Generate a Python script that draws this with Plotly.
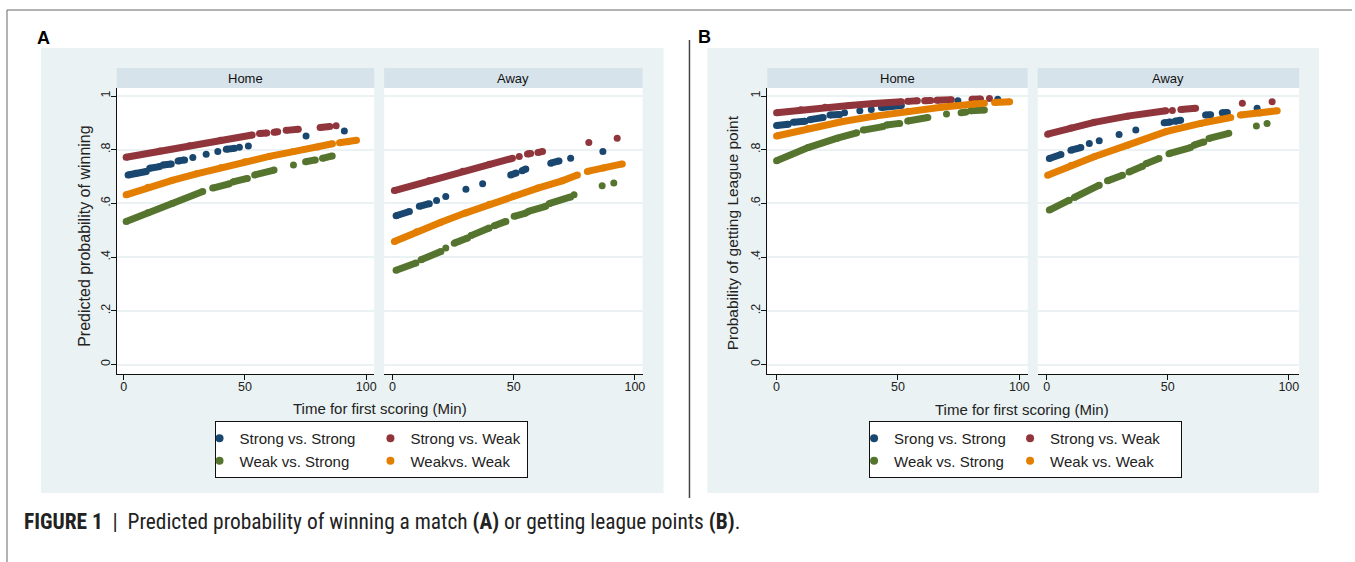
import plotly.graph_objects as go

W, H = 1355, 562

# ---------------- data (minutes, predicted probability) ----------------
# Panel A - Home
a_home_ss_x = [1.8, 5, 9.3, None, 10.7, 14.8, None, 16.2, 19.6, None, 22.4, 25.1, None, 28.5, None, 34, None, 38.8, None, 42.3, 45.7, None, 47.7, None, 51.4, None, 75.2, None, 91]
a_home_ss_y = [.706, .712, .719, None, .731, .737, None, .743, .747, None, .758, .762, None, .771, None, .783, None, .793, None, .802, .805, None, .809, None, .814, None, .851, None, .870]
a_home_sw_x = [1, 15, 27.2, 40, 53, None, 56, 59, None, 62, 63.5, None, 67, 72, None, 81, 85, None, 87.6]
a_home_sw_y = [.772, .795, .815, .835, .855, None, .860, .862, None, .865, .867, None, .872, .876, None, .883, .886, None, .889]
a_home_ws_x = [1, 10, 20, 32.6, None, 36.7, 43.5, None, 45, 51, None, 54, 62, None, 70, None, 75, 79, None, 82, 86]
a_home_ws_y = [.533, .565, .600, .644, None, .657, .673, None, .680, .693, None, .706, .724, None, .743, None, .755, .762, None, .768, .777]
a_home_ww_x = [1, 10, 20, 30, 40, 50, 60, 70, 80, 86.1, None, 89, 92.5, 96]
a_home_ww_y = [.632, .660, .686, .710, .733, .755, .775, .793, .810, .822, None, .826, .830, .835]

# Panel A - Away
a_away_ss_x = [1.5, 7, None, 11.1, 15.2, None, 18.2, None, 22, None, 30.3, None, 37.2, None, 48.8, 51, None, 53.5, 55, None, 65.3, 68.7, None, 73.5, None, 86.8]
a_away_ss_y = [.554, .570, None, .589, .599, None, .611, None, .626, None, .653, None, .673, None, .706, .713, None, .722, .728, None, .750, .758, None, .768, None, .793]
a_away_sw_x = [0.8, 15.2, 29, 40, 49.5, None, 52.3, None, 55.7, 57, None, 60, 61.9, None, 81, None, 92.7]
a_away_sw_y = [.648, .685, .720, .746, .768, None, .775, None, .784, .786, None, .790, .793, None, .827, None, .843]
a_away_ws_x = [1.5, 9.7, None, 11.8, 20, None, 22, None, 25.5, 31, None, 32.4, 39.9, None, 42, 46.8, None, 50.2, 55, None, 56, 63.2, None, 64.6, 73.5, None, 74.9, None, 86.5, None, 91.3]
a_away_ws_y = [.351, .378, None, .390, .421, None, .434, None, .452, .471, None, .480, .508, None, .517, .533, None, .552, .564, None, .570, .589, None, .599, .624, None, .632, None, .666, None, .676]
a_away_ww_x = [0.8, 10, 20, 30, 40, 50, 60, 70, 76.3, None, 80.4, 87, 94.8]
a_away_ww_y = [.458, .494, .530, .564, .597, .628, .657, .684, .706, None, .719, .732, .747]

# Panel B - Home
b_home_ss_x = [0, 4.8, None, 6.9, 11.7, None, 13.7, 19.2, None, 22, 26, None, 28, None, 34.3, None, 39, None, 43.2, 51.4, None, 74.7, None, 91.1]
b_home_ss_y = [.890, .895, None, .902, .906, None, .912, .920, None, .929, .931, None, .938, None, .945, None, .950, None, .957, .965, None, .982, None, .988]
b_home_sw_x = [0, 10, 20, 30, 40, 51.4, None, 54, 58, None, 61, 63.5, None, 66, 72, None, 80.5, 84, None, 87.7]
b_home_sw_y = [.938, .949, .958, .965, .972, .979, None, .980, .982, None, .982, .983, None, .984, .986, None, .988, .989, None, .991]
b_home_ws_x = [0, 13, 25, 33, None, 35.7, 43.9, None, 45.3, 50.7, None, 54, 62.3, None, 70, None, 76, 78, None, 80, 85.6]
b_home_ws_y = [.759, .808, .843, .863, None, .873, .886, None, .892, .898, None, .907, .920, None, .933, None, .938, .940, None, .945, .948]
b_home_ww_x = [0, 13, 26.7, 40.4, 54.1, 67.8, 81.5, 85.6, None, 89.8, 96]
b_home_ww_y = [.851, .879, .904, .925, .943, .958, .970, .973, None, .976, .979]

# Panel B - Away
b_away_ss_x = [1.1, 5.9, None, 10, 14.1, None, 17.6, None, 21.7, None, 29.9, None, 36.8, None, 48.5, 51, None, 53, 55.3, None, 65.6, 67.7, None, 72.5, 74.6, None, 86.9]
b_away_ss_y = [.767, .782, None, .798, .808, None, .823, None, .833, None, .857, None, .873, None, .900, .903, None, .906, .910, None, .929, .930, None, .938, .939, None, .954]
b_away_sw_x = [0.4, 10, 19.6, 33.4, 49.2, None, 51.9, None, 55.4, 61.5, None, 80.8, None, 93.1]
b_away_sw_y = [.858, .881, .902, .925, .945, None, .946, None, .950, .954, None, .973, None, .979]
b_away_ws_x = [1.1, 9.3, None, 11.4, 21.7, None, 25.1, 31.3, None, 34, 39.6, None, 41, 46.4, None, 50.5, 59.4, None, 60.8, 64.9, None, 67, 75.2, None, 86.6, None, 91]
b_away_ws_y = [.575, .612, None, .622, .668, None, .684, .705, None, .717, .738, None, .748, .767, None, .785, .808, None, .817, .829, None, .842, .861, None, .888, None, .898]
b_away_ww_x = [0.4, 10, 19.6, 33.4, 49.2, 63.6, 76, None, 80, 88, 95.2]
b_away_ww_y = [.705, .741, .774, .817, .867, .898, .920, None, .929, .937, .945]

legend_a = ["Strong vs. Strong", "Strong vs. Weak", "Weak vs. Strong", "Weakvs. Weak"]
legend_b = ["Srong vs. Strong", "Strong vs. Weak", "Weak vs. Strong", "Weak vs. Weak"]
facet_labels = ["Home", "Away"]
x_tickvals = [0, 50, 100]
x_ticktext = ["0", "50", "100"]
y_tickvals = [0, 0.2, 0.4, 0.6, 0.8, 1]
y_ticktext = ["0", ".2", ".4", ".6", ".8", "1"]

colors = ["#1a476f", "#90353b", "#55752f", "#e37e00"]

# ---------------- layout helpers ----------------
def px_x(p):
    return p / W

def px_y(p):
    return 1 - p / H

FONT = "Arial, Liberation Sans, Helvetica, sans-serif"
NBSP = "\u00a0"
fig = go.Figure()

panels = [
    ("", [(a_home_ss_x, a_home_ss_y), (a_home_sw_x, a_home_sw_y), (a_home_ws_x, a_home_ws_y), (a_home_ww_x, a_home_ww_y)]),
    ("2", [(a_away_ss_x, a_away_ss_y), (a_away_sw_x, a_away_sw_y), (a_away_ws_x, a_away_ws_y), (a_away_ww_x, a_away_ww_y)]),
    ("3", [(b_home_ss_x, b_home_ss_y), (b_home_sw_x, b_home_sw_y), (b_home_ws_x, b_home_ws_y), (b_home_ww_x, b_home_ww_y)]),
    ("4", [(b_away_ss_x, b_away_ss_y), (b_away_sw_x, b_away_sw_y), (b_away_ws_x, b_away_ws_y), (b_away_ww_x, b_away_ww_y)]),
]

for suf, series in panels:
    for i, (xs, ys) in enumerate(series):
        fig.add_trace(go.Scatter(
            x=xs, y=ys, mode="lines+markers",
            line=dict(color=colors[i], width=7),
            marker=dict(color=colors[i], size=7),
            xaxis="x" + suf, yaxis="y" + suf,
            showlegend=False, hoverinfo="skip", connectgaps=False,
        ))

# legend entries (two legends, 2x2 via legend groups)
groups_a = ["a1", "a2", "a1", "a2"]
groups_b = ["b1", "b2", "b1", "b2"]
pad_a = [NBSP * 6, "", "", ""]  # widen first legend column a little
for i in range(4):
    fig.add_trace(go.Scatter(
        x=[None], y=[None], mode="markers", name=legend_a[i] + pad_a[i],
        marker=dict(color=colors[i], size=8), legend="legend",
        legendgroup=groups_a[i], showlegend=True, xaxis="x", yaxis="y"))
for i in range(4):
    fig.add_trace(go.Scatter(
        x=[None], y=[None], mode="markers", name=legend_b[i],
        marker=dict(color=colors[i], size=8), legend="legend2",
        legendgroup=groups_b[i], showlegend=True, xaxis="x3", yaxis="y3"))

# facet geometry in pixels: (suffix, left, right, zero_px, px_per_unit, has_y_axis)
facets = [
    ("", 117, 375, 124, 2.43, True),
    ("2", 385, 644, 393.3, 2.43, False),
    ("3", 769, 1030, 778.3, 2.433, True),
    ("4", 1040, 1302, 1049, 2.427, False),
]
Y_TOP, Y_BOT = 88, 374
y_zero, y_one = 364.5, 96
ppu_y = y_zero - y_one
y_range = [-(Y_BOT - y_zero) / ppu_y, 1 + (y_one - Y_TOP) / ppu_y]

layout_axes = {}
shapes = []
annotations = []

def ann(x, y, text, size, **kw):
    d = dict(xref="paper", yref="paper", x=px_x(x), y=px_y(y), text=text,
             showarrow=False, xanchor="center", yanchor="middle",
             font=dict(size=size, color=kw.pop("color", "#222"), family=kw.pop("family", FONT)))
    d.update(kw)
    return d

# panel backgrounds
for (l, r) in [(41, 665), (709, 1322)]:
    shapes.append(dict(type="rect", xref="paper", yref="paper", layer="below",
                       x0=px_x(l), x1=px_x(r), y0=px_y(493), y1=px_y(48),
                       fillcolor="#eaf2f3", line=dict(width=0)))

for k, (suf, l, r, z, ppu, has_y) in enumerate(facets):
    xr = [-(z - l) / ppu, (r - z) / ppu]
    layout_axes["xaxis" + suf] = dict(
        domain=[px_x(l), px_x(r)], range=xr, anchor="y" + suf,
        showline=True, linecolor="#111", linewidth=1, mirror=False,
        ticks="outside", ticklen=5, tickcolor="#111", tickwidth=1,
        tickvals=x_tickvals, ticktext=x_ticktext, showgrid=False, zeroline=False,
        ticklabelstandoff=-4,
        tickfont=dict(size=12.5, color="#222", family=FONT), fixedrange=True)
    layout_axes["yaxis" + suf] = dict(
        domain=[px_y(Y_BOT), px_y(Y_TOP)], range=y_range, anchor="x" + suf,
        showline=has_y, linecolor="#111", linewidth=1,
        ticks="outside" if has_y else "", ticklen=5, tickcolor="#111",
        showticklabels=has_y, tickvals=y_tickvals, ticktext=y_ticktext,
        tickangle=-90, showgrid=True, gridcolor="#eaf2f3", gridwidth=1.5,
        ticklabelstandoff=-4,
        zeroline=False, tickfont=dict(size=12.5, color="#222", family=FONT),
        fixedrange=True)
    # white plot region
    shapes.append(dict(type="rect", xref="paper", yref="paper", layer="below",
                       x0=px_x(l), x1=px_x(r), y0=px_y(Y_BOT), y1=px_y(Y_TOP),
                       fillcolor="white", line=dict(width=0)))
    # strip header
    shapes.append(dict(type="rect", xref="paper", yref="paper", layer="below",
                       x0=px_x(l), x1=px_x(r), y0=px_y(88), y1=px_y(68),
                       fillcolor="#d6e3ea", line=dict(width=0)))
    annotations.append(ann((l + r) / 2, 78, facet_labels[k % 2], 13, color="#111"))

# frame lines and divider
shapes.append(dict(type="line", xref="paper", yref="paper", x0=px_x(7), x1=1, y0=px_y(10), y1=px_y(10),
                   line=dict(color="#666", width=1)))
shapes.append(dict(type="line", xref="paper", yref="paper", x0=px_x(7), x1=px_x(7), y0=0, y1=px_y(10),
                   line=dict(color="#666", width=1)))
shapes.append(dict(type="line", xref="paper", yref="paper", x0=px_x(691), x1=px_x(691), y0=px_y(498), y1=px_y(40),
                   line=dict(color="#444", width=1.5)))

# panel letters
annotations.append(ann(44, 38, "<b>A</b>", 18, color="#000"))
annotations.append(ann(706, 37, "<b>B</b>", 18, color="#000"))

# axis titles
annotations += [
    ann(84, 236, "Predicted probability of winning", 16, textangle=-90),
    ann(381, 408, "Time for first scoring (Min)", 15),
    ann(734, 233, "Probability of getting League point", 15.5, textangle=-90),
    ann(1024, 409, "Time for first scoring (Min)", 15),
]

# caption
annotations.append(ann(
    22, 521,
    "<b>FIGURE 1</b>  |  Predicted probability of winning a match <b>(A)</b> or getting league points <b>(B)</b>.",
    21.4, color="#222", xanchor="left",
    family="Liberation Sans Narrow, Arial Narrow, Roboto Condensed, sans-serif"))

legend_common = dict(orientation="h", traceorder="grouped", bgcolor="white",
                     bordercolor="#111", borderwidth=1, xanchor="left", yanchor="top",
                     indentation=-15,
                     font=dict(size=15, color="#222", family=FONT), itemclick=False,
                     itemdoubleclick=False)

fig.update_layout(
    width=W, height=H, autosize=False,
    margin=dict(l=0, r=0, t=0, b=0),
    paper_bgcolor="white", plot_bgcolor="white",
    font=dict(family=FONT),
    shapes=shapes, annotations=annotations,
    legend=dict(x=px_x(215), y=px_y(421), **legend_common),
    legend2=dict(x=px_x(871), y=px_y(421), entrywidth=126, entrywidthmode="pixels", **legend_common),
    **layout_axes,
)

fig.write_html(
    "out.html",
    config={"displayModeBar": False},
    post_script="document.body.style.margin='0';document.documentElement.style.overflow='hidden';",
)
